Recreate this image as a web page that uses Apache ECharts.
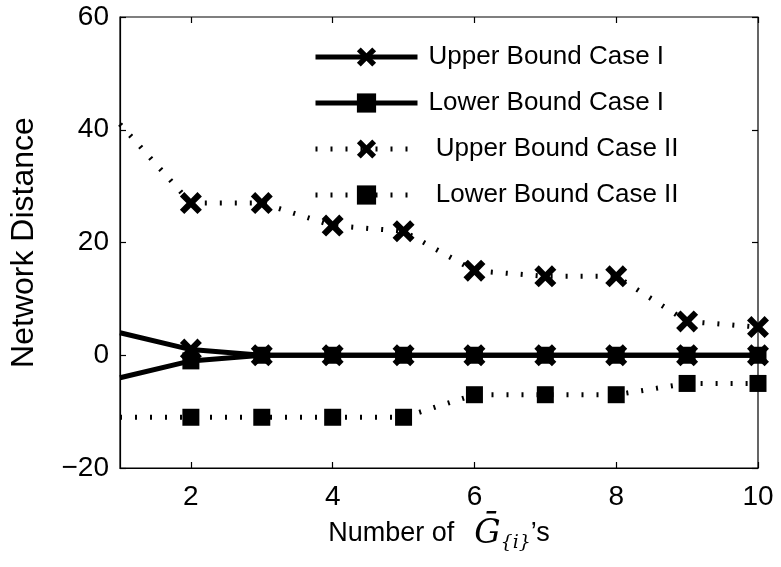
<!DOCTYPE html>
<html>
<head>
<meta charset="utf-8">
<script src="https://cdn.jsdelivr.net/npm/echarts@6/dist/echarts.min.js"></script>
<style>
  html, body { margin: 0; padding: 0; background: #fff; }
  #chart { width: 781px; height: 567px; }
</style>
</head>
<body>
<div id="chart"></div>
<script>
// data
const xValues = [1, 2, 3, 4, 5, 6, 7, 8, 9, 10]
const upperCaseI = [4, 1, 0, 0, 0, 0, 0, 0, 0, 0]
const lowerCaseI = [-4, -1, 0, 0, 0, 0, 0, 0, 0, 0]
const upperCaseII = [41, 27, 27, 23, 22, 15, 14, 14, 6, 5]
const lowerCaseII = [-11, -11, -11, -11, -11, -7, -7, -7, -5, -5]
const xTicks = [2, 4, 6, 8, 10]
const yTicks = [-20, 0, 20, 40, 60]
const seriesNames = ['Upper Bound Case I', 'Lower Bound Case I', 'Upper Bound Case II', 'Lower Bound Case II']

const FONT = '"Liberation Sans", Arial, Helvetica, sans-serif'
const SERIF = '"DejaVu Serif", serif'
const CROSS = 'path://M2,0 L5,3 L8,0 L10,2 L7,5 L10,8 L8,10 L5,7 L2,10 L0,8 L3,5 L0,2 Z'

// first point sits on the left axis edge, no marker drawn there
const toData = (vals) => vals.map((v, i) => {
  const item = { value: [xValues[i], v] }
  if (i === 0) item.symbol = 'none'
  return item
})

const chart = echarts.init(document.getElementById('chart'), null, { renderer: 'canvas' })

const solidLine = { color: '#000', width: 5, type: 'solid' }
const dottedLine = { color: '#000', width: 5, type: [2, 13], cap: 'butt' }
const tickStyle = { color: '#000', width: 1.2 }

const option = {
  backgroundColor: '#fff',
  animation: false,
  grid: {
    left: 119,
    right: 23,
    top: 17,
    bottom: 99,
    show: true,
    borderColor: '#000',
    borderWidth: 1.2,
  },
  legend: {
    top: 44,
    left: 313,
    padding: 0,
    orient: 'vertical',
    itemWidth: 102,
    itemHeight: 24,
    itemGap: 20,
    textStyle: {
      fontFamily: FONT,
      fontSize: 26,
      color: '#000',
      lineHeight: 26,
      padding: [0, 0, 0, 6],
    },
    formatter: (name) => name.endsWith('II') ? ' ' + name : name,
    data: [
      { name: seriesNames[0], lineStyle: solidLine },
      { name: seriesNames[1], lineStyle: solidLine },
      { name: seriesNames[2], lineStyle: dottedLine },
      { name: seriesNames[3], lineStyle: dottedLine },
    ],
  },
  xAxis: [
    {
      type: 'value',
      min: 1,
      max: 10,
      position: 'bottom',
      splitLine: { show: false },
      axisLine: { show: true, onZero: false, lineStyle: { color: '#000', width: 1.2 } },
      axisTick: { show: true, inside: true, length: 6, customValues: xTicks, lineStyle: tickStyle },
      axisLabel: { customValues: xTicks, color: '#000', fontFamily: FONT, fontSize: 28, margin: 15 },
      name: '{a|Number of}{g|Ḡ}{sub|{i}}{a|’s}',
      nameLocation: 'middle',
      nameGap: 75,
      nameTextStyle: {
        fontFamily: SERIF,
        fontStyle: 'italic',
        fontSize: 19,
        color: '#000',
        verticalAlign: 'middle',
        rich: {
          a: { fontFamily: FONT, fontSize: 27, color: '#000', fontStyle: 'normal', padding: [0, 0, 18, 0] },
          g: { fontFamily: SERIF, fontStyle: 'italic', fontSize: 33, color: '#000', padding: [0, 0, 18, 20] },
          sub: { fontFamily: SERIF, fontStyle: 'italic', fontSize: 19, color: '#000' },
        },
      },
    },
    {
      type: 'value',
      min: 1,
      max: 10,
      position: 'top',
      splitLine: { show: false },
      axisLine: { show: false, onZero: false },
      axisTick: { show: true, inside: true, length: 6, customValues: xTicks, lineStyle: tickStyle },
      axisLabel: { show: false },
    },
  ],
  yAxis: [
    {
      type: 'value',
      min: -20,
      max: 60,
      interval: 20,
      position: 'left',
      splitLine: { show: false },
      axisLine: { show: true, onZero: false, lineStyle: { color: '#000', width: 1.2 } },
      axisTick: { show: true, inside: true, length: 6, lineStyle: tickStyle },
      axisLabel: {
        color: '#000',
        fontFamily: FONT,
        fontSize: 28,
        margin: 11,
        formatter: (v) => yTicks.includes(v) ? String(v).replace('-', '\u2212') : '',
      },
      name: 'Network Distance',
      nameLocation: 'middle',
      nameGap: 80,
      nameTextStyle: { fontFamily: FONT, fontSize: 32, color: '#000' },
    },
    {
      type: 'value',
      min: -20,
      max: 60,
      interval: 20,
      position: 'right',
      splitLine: { show: false },
      axisLine: { show: false, onZero: false },
      axisTick: { show: true, inside: true, length: 6, lineStyle: tickStyle },
      axisLabel: { show: false },
    },
  ],
  series: [
    {
      name: seriesNames[2],
      type: 'line',
      data: toData(upperCaseII),
      symbol: CROSS,
      symbolSize: 22,
      itemStyle: { color: '#000' },
      lineStyle: dottedLine,
    },
    {
      name: seriesNames[3],
      type: 'line',
      data: toData(lowerCaseII),
      symbol: 'rect',
      symbolSize: 17,
      itemStyle: { color: '#000' },
      lineStyle: dottedLine,
    },
    {
      name: seriesNames[0],
      type: 'line',
      data: toData(upperCaseI),
      symbol: CROSS,
      symbolSize: 22,
      itemStyle: { color: '#000' },
      lineStyle: solidLine,
    },
    {
      name: seriesNames[1],
      type: 'line',
      data: toData(lowerCaseI),
      symbol: 'rect',
      symbolSize: 17,
      itemStyle: { color: '#000' },
      lineStyle: solidLine,
    },
  ],
}

chart.setOption(option)
</script>
</body>
</html>
